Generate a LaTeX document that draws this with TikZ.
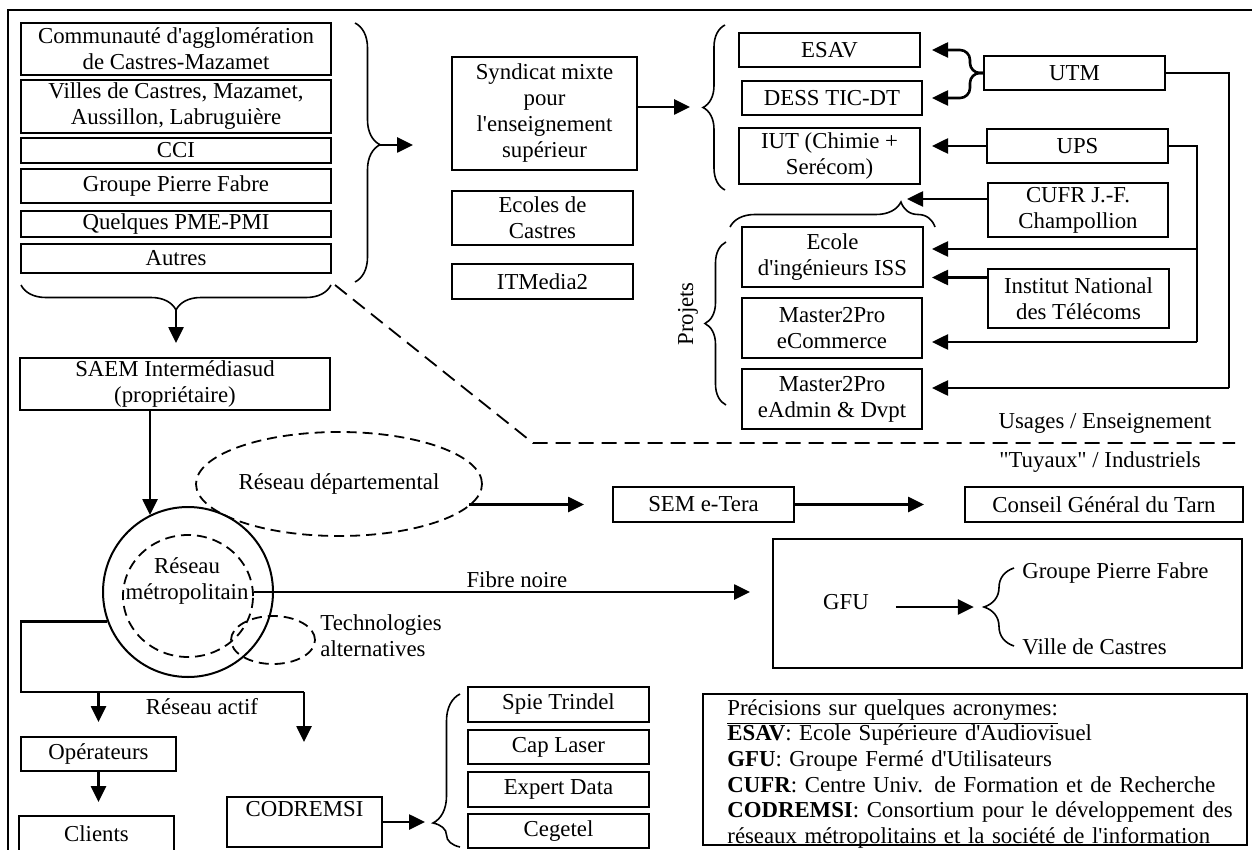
\documentclass[tikz,border=0pt]{standalone}
\usepackage{fontspec}
\setmainfont{Liberation Serif}[Ligatures=TeXOff]
\usetikzlibrary{arrows.meta, shapes, positioning, calc, decorations.pathreplacing}

\newcommand{\fnt}{\fontsize{11.4}{13}\selectfont}

\begin{document}
\begin{tikzpicture}[x=0.5pt, y=-0.5pt, font=\fnt,
  box/.style={draw, line width=1pt, inner sep=0pt, align=center},
  wh/.style 2 args={minimum width=#1*0.5pt, minimum height=#2*0.5pt},
  arr/.style={-{Triangle[length=8pt,width=7.5pt]}, line width=1.3pt},
  ln/.style={line width=1.1pt},
  brc/.style={decorate, decoration={brace, amplitude=#1}, line width=0.8pt},
  sep/.style={line width=0.9pt, dash pattern=on 7.5pt off 4pt},
  dsh/.style={draw, line width=0.9pt, dash pattern=on 5pt off 3pt},
  lbl/.style={inner sep=0pt}]
\useasboundingbox (0,0) rectangle (1252,850);
\clip (0,0) rectangle (1252,850);
\draw[line width=1pt] (8,860) -- (8,10) -- (1260,10);

% financeurs
\node[box, wh={310}{52}] (comm) at (176,49) {Communauté d'agglomération\\de Castres-Mazamet};
\node[box, wh={310}{53}] (villes) at (176,106.5) {Villes de Castres, Mazamet,\\Aussillon, Labruguière};
\node[box, wh={310}{25}] (cci) at (176,150.5) {CCI};
\node[box, wh={310}{34}] (gpf) at (176,186) {Groupe Pierre Fabre};
\node[box, wh={310}{26}] (pme) at (176,224) {Quelques PME-PMI};
\node[box, wh={310}{29}] (autres) at (176,258.5) {Autres};
\draw[brc=12.5pt, decoration={aspect=0.47}] (355,23) -- (355,282);
\coordinate (stacktip) at (380,145);
\draw[arr] (stacktip) -- ++(33,0);
\draw[brc=12.5pt] (331,285) -- (21,285);
\coordinate (stackbot) at (176,310);
\draw[arr] (stackbot) -- ++(0,33);

% enseignement
\node[box, wh={185}{113}] (synd) at (544.5,113.5) {Syndicat mixte\\pour\\l'enseignement\\supérieur};
\node[box, wh={181}{54}] (ecoles) at (542.5,218) {Ecoles de\\Castres};
\node[box, wh={181}{35}] (itm) at (542.5,281.5) {ITMedia2};
\coordinate (enstip) at (702,107);
\draw[arr] (synd.east |- enstip) -- ($(enstip)+(-12,0)$);
\draw[brc=11pt] (725,190) -- (725,25);

\node[box, wh={181}{34}] (esav) at (829.5,50) {ESAV};
\node[box, wh={180}{34}] (dess) at (832,98) {DESS TIC-DT};
\node[box, wh={181}{56}] (iut) at (829.5,156) {IUT (Chimie +\\Serécom)};
\node[box, wh={181}{34}] (utm) at (1074.5,73) {UTM};
\node[box, wh={181}{34}] (ups) at (1077.5,146) {UPS};
\node[box, wh={180}{54}] (cufr) at (1078,210) {CUFR J.-F.\\Champollion};
\node[box, wh={181}{60}] (iss) at (832.5,257) {Ecole\\d'ingénieurs ISS};
\node[box, wh={181}{59}] (int) at (1078.5,298.5) {Institut National\\des Télécoms};
\node[box, wh={180}{60}] (mcom) at (832,328) {Master2Pro\\eCommerce};
\node[box, wh={180}{60}] (madm) at (832,399) {Master2Pro\\eAdmin \& Dvpt};

\draw[arr, rounded corners=5pt] (utm.west) -- ++(-13,0) |- ($(esav.east)+(11,0)$);
\draw[arr, rounded corners=5pt] (utm.west) -- ++(-13,0) |- ($(dess.east)+(9,0)$);
\draw[arr] (ups.west) -- ($(iut.east |- ups.west)+(11,0)$);
\coordinate (upsmid) at (1197,249);
\coordinate (upsbot) at (1197,342);
\draw[ln] (ups.east) -| (upsbot);
\draw[arr] (upsmid) -- ($(iss.east |- upsmid)+(8,0)$);
\draw[arr] (upsbot) -- ($(mcom.east |- upsbot)+(9,0)$);
\coordinate (utmbot) at (1229,388);
\draw[ln] (utm.east) -| (utmbot);
\draw[arr] (utmbot) -- ($(madm.east |- utmbot)+(9,0)$);
\draw[arr] ($(int.west)+(0,-21)$) -- ($(iss.east |- int.west)+(8,-21)$);
\draw[arr] ($(cufr.west)+(0,-11)$) -- ++(-80,0);
\draw[brc=12.5pt, decoration={aspect=0.834}] (730,227) -- (935,227);
\draw[brc=10.5pt] (726,405) -- (726,242);
\node[rotate=90] (projets) at (688,314) {Projets};

% separation usages / tuyaux
\draw[sep] (335,285) -- (533,443) -- (1235,443);
\node (usages) at (1105,423) {Usages / Enseignement};
\node (tuyaux) at (1100,462) {\textquotedbl Tuyaux\textquotedbl{} / Industriels};

% reseaux
\node[box, wh={310}{52}] (saem) at (175,384) {SAEM Intermédiasud\\(propriétaire)};
\node[circle, draw, line width=1pt, minimum size=85pt] (metro) at (188,592) {};
\node[ellipse, dsh, minimum width=65pt, minimum height=61pt] (metroin) at (188,596) {};
\node[align=center] (metrotxt) at (187,580.5) {Réseau\\métropolitain};
\node[ellipse, dsh, inner sep=0pt, minimum width=143pt, minimum height=52pt] (dep) at (339,484) {Réseau départemental};
\node[ellipse, dsh, minimum width=42pt, minimum height=24pt] (tech) at (273,640) {};
\node[lbl, anchor=west, align=left] (techtxt) at (320,636) {Technologies\\alternatives};
\draw[arr] ($(saem.south)+(-25,0)$) -- ++(0,104);

\node[box, wh={181}{35}] (sem) at (703.5,504.5) {SEM e-Tera};
\node[box, wh={278}{35}] (cg) at (1104,504.5) {Conseil Général du Tarn};
\draw[arr] ($(sem.west -| dep.east)+(-14,0)$) -- ($(sem.west)+(-28,0)$);
\draw[arr] (sem.east) -- ($(cg.west)+(-40,0)$);

\node[box, wh={469}{129}] (gfubox) at (1007.5,603.5) {};
\draw[arr] (metro.center -| metroin.east) -- ($(gfubox.west |- metro.center)+(-22,0)$)
  node[pos=0.53, above=-2pt] (fibre) {Fibre noire};
\node (gfu) at (846,602) {GFU};
\draw[arr] ($(gfu.east)+(20,5)$) -- ++(78,0);
\draw[brc=15pt] (1014,646) -- (1014,568);
\node[lbl, anchor=west] (gpf2) at (1022,573) {Groupe Pierre Fabre};
\node[lbl, anchor=west] (ville) at (1022,647) {Ville de Castres};

% reseau actif
\coordinate (actL) at (21,692);
\coordinate (actR) at (304,692);
\draw[ln] (metro.200) -| (actL) -- (actR);
\draw[arr] (actR) -- ++(0,50);
\node[box, wh={155}{34}] (oper) at (98.5,754) {Opérateurs};
\draw[arr] (actL -| oper.north) -- ++(0,30);
\node (actif) at (202,707) {Réseau actif};
\node[box, wh={155}{36}] (clients) at (96.5,834) {Clients};
\draw[arr] (oper.south) -- ++(0,30);
\node[box, wh={155}{50}] (codremsi) at (304.5,822) {CODREMSI\\\mbox{}};
\draw[arr] (codremsi.east) -- ++(42,0);
\draw[brc=13.5pt, decoration={aspect=0.157}] (460,847) -- (460,694);
\node[box, wh={181}{35}] (spie) at (558.5,704.5) {Spie Trindel};
\node[box, wh={181}{34}] (cap) at (558.5,747) {Cap Laser};
\node[box, wh={181}{35}] (expert) at (558.5,789.5) {Expert Data};
\node[box, wh={181}{34}] (cegetel) at (558.5,831) {Cegetel};

% acronymes
\node[box, wh={544}{151}] (acro) at (975,769.5) {};
\node[lbl, anchor=north west, align=left, text width=260pt,
  font=\fontsize{11.4}{12.8}\selectfont] (acrotxt) at (727,699) {%
\underline{Précisions sur quelques acronymes:}\\
\textbf{ESAV}: Ecole Supérieure d'Audiovisuel\\
\textbf{GFU}: Groupe Fermé d'Utilisateurs\\
\textbf{CUFR}: Centre Univ. de Formation et de Recherche\\
\textbf{CODREMSI}: Consortium pour le développement des\\
réseaux métropolitains et la société de l'information};
\end{tikzpicture}
\end{document}
